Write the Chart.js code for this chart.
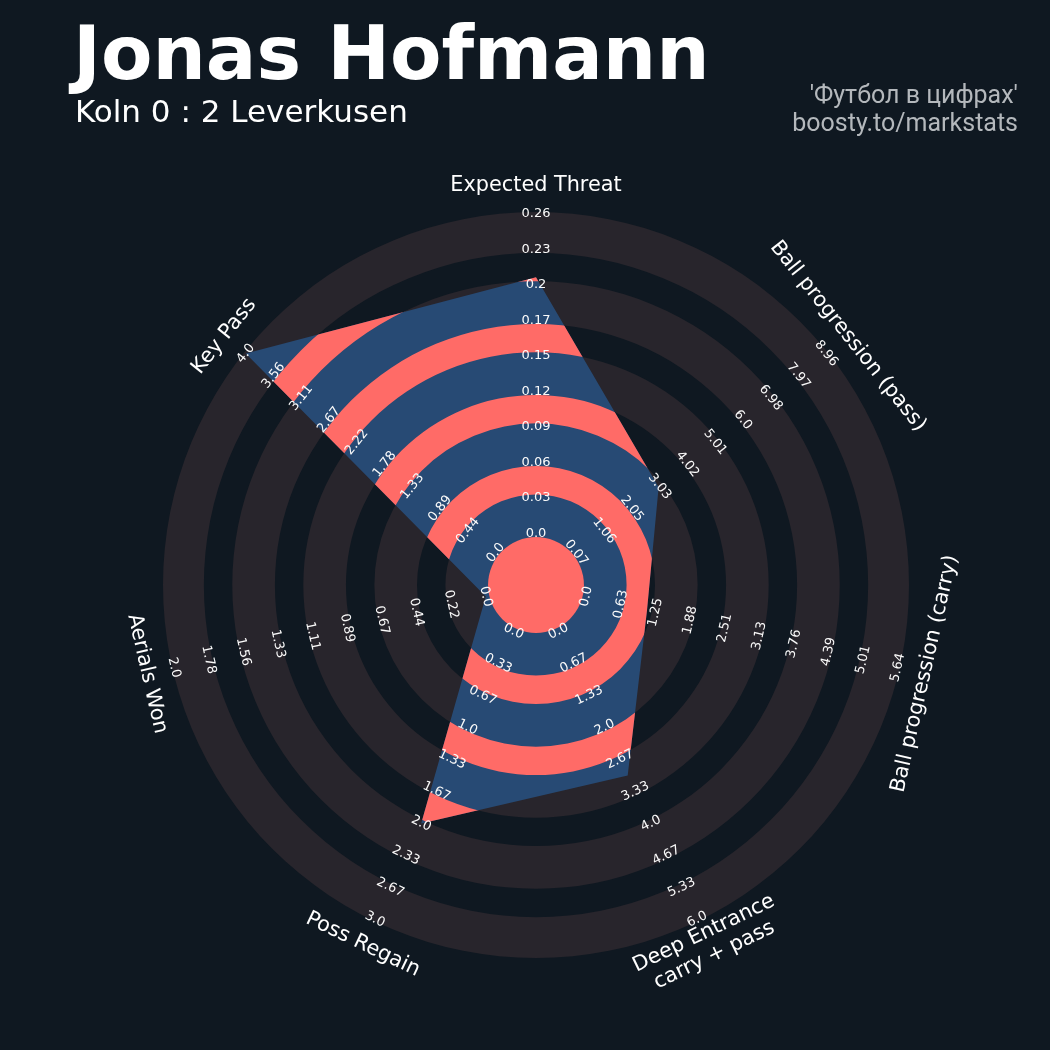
<!DOCTYPE html>
<html>
<head>
<meta charset="utf-8">
<script src="https://cdn.jsdelivr.net/npm/chart.js@4.4.1/dist/chart.umd.min.js"></script>
<style>
  html, body { margin: 0; padding: 0; background: #0f1821; }
  #wrap { position: relative; width: 1050px; height: 1050px; overflow: hidden; }
  #chartBox { position: absolute; left: 0; top: 0; width: 1050px; height: 1050px; }
  .title { position: absolute; left: 73px; top: 16px; font: bold 75px/1 "DejaVu Sans"; color: #ffffff; white-space: nowrap; }
  .subtitle { position: absolute; left: 75px; top: 96px; font: 31px/1 "DejaVu Sans"; color: #ffffff; white-space: nowrap; }
  .credit { position: absolute; right: 32px; top: 81px; font: 25px/28px Roboto; color: #b4b8bc; text-align: right; white-space: nowrap; }
</style>
</head>
<body>
<div id="wrap">
  <div id="chartBox"><canvas id="radarChart"></canvas></div>
  <div class="title">Jonas Hofmann</div>
  <div class="subtitle">Koln 0 : 2 Leverkusen</div>
  <div class="credit">'Футбол в цифрах'<br>boosty.to/markstats</div>
</div>
<script>
// params, clockwise from the top
const params = [
    "Expected Threat",
    "Ball progression (pass)",
    "Ball progression (carry)",
    ["Deep Entrance", "carry + pass"],
    "Poss Regain",
    "Aerials Won",
    "Key Pass"
];
const lowRange = [0, 0.07, 0, 0, 0, 0, 0];
const highRange = [0.262, 8.96, 5.64, 6.0, 3.0, 2.0, 4.0];
const playerValues = [0.21, 3.0, 1.1, 3.0, 2.0, 0.0, 4.0];

const tickLabels = [
    ["0.0", "0.03", "0.06", "0.09", "0.12", "0.15", "0.17", "0.2", "0.23", "0.26"],
    ["0.07", "1.06", "2.05", "3.03", "4.02", "5.01", "6.0", "6.98", "7.97", "8.96"],
    ["0.0", "0.63", "1.25", "1.88", "2.51", "3.13", "3.76", "4.39", "5.01", "5.64"],
    ["0.0", "0.67", "1.33", "2.0", "2.67", "3.33", "4.0", "4.67", "5.33", "6.0"],
    ["0.0", "0.33", "0.67", "1.0", "1.33", "1.67", "2.0", "2.33", "2.67", "3.0"],
    ["0.0", "0.22", "0.44", "0.67", "0.89", "1.11", "1.33", "1.56", "1.78", "2.0"],
    ["0.0", "0.44", "0.89", "1.33", "1.78", "2.22", "2.67", "3.11", "3.56", "4.0"]
];

// radial layout (in scale units)
const RING0 = 1.45;      // where the range minimum sits
const BANDS = 9;         // bands between min and max
const EDGE = 0.1;        // grey rings are drawn a little wider
const SCALE_MAX = 10.5;
const LABEL_R = 11.23;

const BG_RING = "#28252c";
const BLUE = "#274a74";
const SALMON = "#ff6b67";

const radarValues = playerValues.map((v, i) =>
    RING0 + BANDS * (v - lowRange[i]) / (highRange[i] - lowRange[i]));

function annulus(ctx, scale, from, to) {
    const a = scale.getDistanceFromCenterForValue(from);
    const b = scale.getDistanceFromCenterForValue(to);
    ctx.beginPath();
    ctx.arc(scale.xCenter, scale.yCenter, b, 0, Math.PI * 2);
    ctx.moveTo(scale.xCenter + a, scale.yCenter);
    ctx.arc(scale.xCenter, scale.yCenter, a, 0, Math.PI * 2, true);
    ctx.fill();
}

function textRotation(angle) {
    let deg = angle * 180 / Math.PI;
    if (deg > 90 && deg < 270) deg -= 180;
    return deg * Math.PI / 180;
}

function drawRotated(ctx, lines, x, y, rot, lineH) {
    ctx.save();
    ctx.translate(x, y);
    ctx.rotate(rot);
    const n = lines.length;
    lines.forEach((t, j) => ctx.fillText(t, 0, (j - (n - 1) / 2) * lineH));
    ctx.restore();
}

const radarPlugin = {
    id: "radarRings",
    beforeDatasetsDraw(chart) {
        const ctx = chart.ctx;
        const scale = chart.scales.r;
        ctx.save();
        ctx.fillStyle = BG_RING;
        for (let k = 0; k < BANDS; k += 2) {
            const inner = RING0 + k - EDGE;
            const outer = Math.min(SCALE_MAX, RING0 + k + 1 + EDGE);
            annulus(ctx, scale, inner, outer);
        }
        ctx.restore();
    },
    afterDatasetsDraw(chart) {
        const ctx = chart.ctx;
        const scale = chart.scales.r;
        const pts = chart.getDatasetMeta(0).data;

        // salmon stripes inside the player's shape
        ctx.save();
        ctx.beginPath();
        pts.forEach((p, i) => i ? ctx.lineTo(p.x, p.y) : ctx.moveTo(p.x, p.y));
        ctx.closePath();
        ctx.clip();
        ctx.fillStyle = SALMON;
        for (let k = 1; k < BANDS; k += 2) {
            annulus(ctx, scale, RING0 + k + EDGE, RING0 + k + 1 - EDGE);
        }
        ctx.restore();

        // centre circle
        ctx.save();
        ctx.fillStyle = SALMON;
        ctx.beginPath();
        ctx.arc(scale.xCenter, scale.yCenter, scale.getDistanceFromCenterForValue(RING0 - EDGE), 0, Math.PI * 2);
        ctx.fill();

        // range labels along each spoke
        ctx.fillStyle = "#fafafa";
        ctx.font = '13px "DejaVu Sans"';
        ctx.textAlign = "center";
        ctx.textBaseline = "middle";
        tickLabels.forEach((labels, i) => {
            const rot = textRotation(scale.getIndexAngle(i));
            labels.forEach((t, k) => {
                const pos = scale.getPointPosition(i, scale.getDistanceFromCenterForValue(RING0 + k));
                drawRotated(ctx, [t], pos.x, pos.y, rot, 0);
            });
        });
        ctx.restore();
    },
    afterDraw(chart) {
        const ctx = chart.ctx;
        const scale = chart.scales.r;
        ctx.save();
        ctx.fillStyle = "#ffffff";
        ctx.font = '20.8px "DejaVu Sans"';
        ctx.textAlign = "center";
        ctx.textBaseline = "middle";
        params.forEach((p, i) => {
            const pos = scale.getPointPosition(i, scale.getDistanceFromCenterForValue(LABEL_R));
            const lines = Array.isArray(p) ? p : [p];
            drawRotated(ctx, lines, pos.x, pos.y, textRotation(scale.getIndexAngle(i)), 24);
        });
        ctx.restore();
    }
};

new Chart(document.getElementById("radarChart"), {
    type: "radar",
    data: {
        labels: params,
        datasets: [{
            data: radarValues,
            backgroundColor: BLUE,
            borderWidth: 0,
            pointRadius: 0,
            pointHoverRadius: 0,
            fill: "origin"
        }]
    },
    options: {
        responsive: true,
        maintainAspectRatio: false,
        devicePixelRatio: 1,
        animation: false,
        layout: { padding: { left: 163, right: 141, top: 212, bottom: 92 } },
        plugins: { legend: { display: false }, tooltip: { enabled: false } },
        scales: {
            r: {
                min: 0,
                max: SCALE_MAX,
                startAngle: 0,
                ticks: { display: false },
                grid: { display: false },
                angleLines: { display: false },
                pointLabels: { display: false }
            }
        }
    },
    plugins: [radarPlugin]
});
</script>
</body>
</html>
